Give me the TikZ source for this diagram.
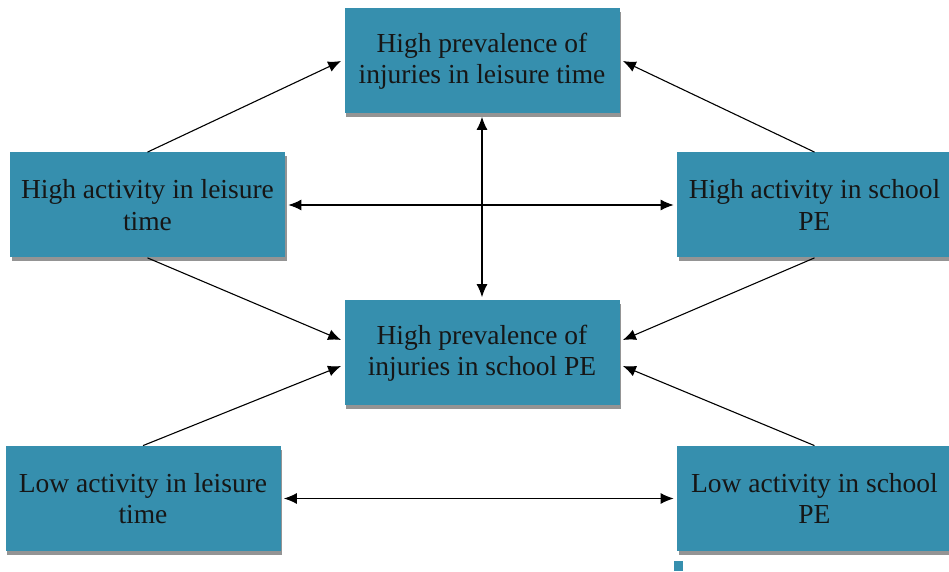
\documentclass[tikz,border=0pt]{standalone}
\usepackage{fontspec}
\setmainfont{Liberation Serif}
\usepackage{tikz}
\usetikzlibrary{calc,arrows.meta,shadows}

\definecolor{boxblue}{RGB}{54,143,174}
\definecolor{boxtext}{RGB}{22,22,22}

\tikzset{
    box/.style={rectangle, fill=boxblue, text=boxtext, align=center, inner sep=0pt,
        minimum width=137.5pt, minimum height=52.5pt,
        font=\fontsize{13.75}{15.6}\selectfont,
        drop shadow={shadow xshift=0.8pt, shadow yshift=-1.8pt, opacity=0.6, fill=black!70}},
    link/.style={line width=0.55pt, -{Latex[length=6.5pt, width=5.5pt]}},
    biglink/.style={line width=0.55pt, {Latex[length=6.5pt, width=5.5pt]}-{Latex[length=6.5pt, width=5.5pt]}}
}

\begin{document}
\begin{tikzpicture}[x=0.5pt, y=-0.5pt]
    \useasboundingbox (0,0) rectangle (949,572);

    \node[box] (injl) at (482,61) {High prevalence of\\injuries in leisure time};
    
    \node[box] (hil) at (147.5,205) {High activity in leisure\\time};
    
    \node[box] (his) at (814.5,205) {High activity in school\\PE};
    
    \node[box] (injs) at (482,353) {High prevalence of\\injuries in school PE};
    
    \node[box] (lol) at (143,498.5) {Low activity in leisure\\time};
    
    \node[box] (los) at (814.5,498.5) {Low activity in school\\PE};
    
    \node[fill=boxblue, inner sep=0pt, minimum size=4.5pt] (mark) at (678,566) {};
    
    \draw[link] (hil.north) -- ($(injl.west) + (-3,0)$);
    \draw[link] (his.north) -- ($(injl.east) + (3,0)$);
    \draw[biglink] ($(hil.east) + (3,0)$) -- ($(his.west) + (-3,0)$);
    \draw[biglink] ($(injl.south) + (0,3)$) -- ($(injs.north) + (0,-3)$);
    \draw[link] (hil.south) -- ($(injs.west) + (-3,-13)$);
    \draw[link] (his.south) -- ($(injs.east) + (3,-13)$);
    \draw[link] (lol.north) -- ($(injs.west) + (-3,13)$);
    \draw[link] (los.north) -- ($(injs.east) + (3,13)$);
    \draw[biglink] ($(lol.east) + (3,0)$) -- ($(los.west) + (-3,0)$);
    
\end{tikzpicture}
\end{document}
